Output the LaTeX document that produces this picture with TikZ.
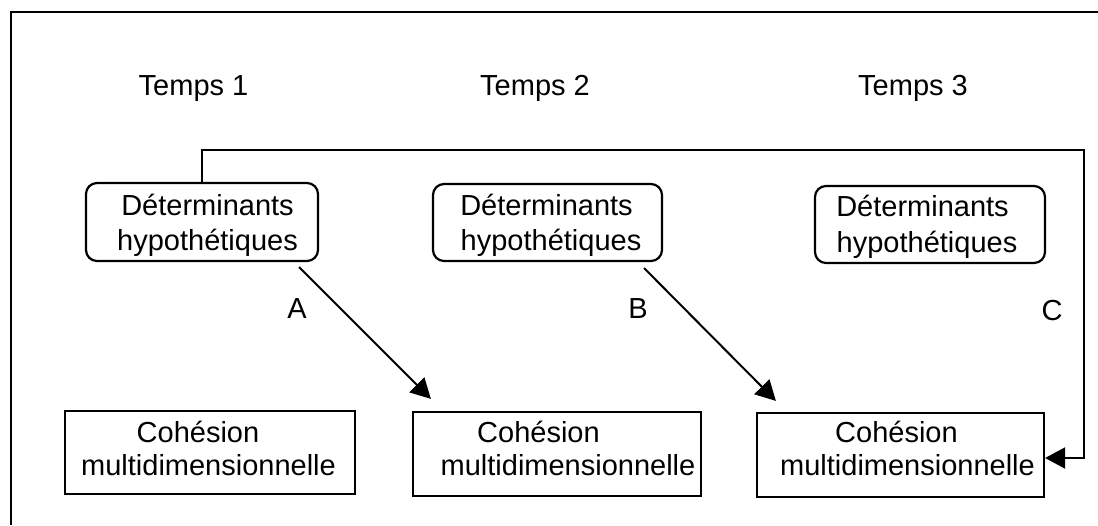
\documentclass[tikz,border=0pt]{standalone}
\usepackage{fontspec}
\setmainfont{Liberation Sans}
\usetikzlibrary{arrows.meta}
\begin{document}
\begin{tikzpicture}[x=1pt,y=-1pt,
  txt/.style={font=\fontsize{29}{35}\selectfont, inner sep=0pt, anchor=base},
  detbox/.style={draw, line width=2.2pt, rounded corners=11pt, inner sep=0pt},
  cohbox/.style={draw, line width=2.2pt, inner sep=0pt},
  conn/.style={line width=2pt},
  tip/.style={-{Triangle[length=20pt,width=21pt]}}]
\useasboundingbox (0,0) rectangle (1098,525);

% outer frame
\draw[line width=2.6pt] (1098,12) -- (11,12) -- (11,525);

% time headings
\node[txt] (t1) at (193.5,95) {Temps 1};
\node[txt] (t2) at (535,95) {Temps 2};
\node[txt] (t3) at (913,95) {Temps 3};

% determinant boxes
\node[detbox, minimum width=232pt, minimum height=78pt] (d1) at (202,222) {};
\node[detbox, minimum width=229pt, minimum height=77pt] (d2) at (547.5,222.5) {};
\node[detbox, minimum width=230pt, minimum height=77pt] (d3) at (930,224.5) {};
\node[txt] (d1a) at (207.5,215) {Déterminants};
\node[txt] (d1b) at (207.5,250) {hypothétiques};
\node[txt] (d2a) at (546.5,215) {Déterminants};
\node[txt] (d2b) at (551,250) {hypothétiques};
\node[txt] (d3a) at (922.5,216) {Déterminants};
\node[txt] (d3b) at (927,252) {hypothétiques};

% cohesion boxes
\node[cohbox, minimum width=290pt, minimum height=83pt] (c1) at (210,452.5) {};
\node[cohbox, minimum width=288pt, minimum height=84pt] (c2) at (557,454) {};
\node[cohbox, minimum width=287pt, minimum height=84pt] (c3) at (900.5,455) {};
\node[txt] (c1a) at (198,442) {Cohésion};
\node[txt] (c1b) at (208.5,475) {multidimensionnelle};
\node[txt] (c2a) at (538.5,442) {Cohésion};
\node[txt] (c2b) at (568,475) {multidimensionnelle};
\node[txt] (c3a) at (896.5,442) {Cohésion};
\node[txt] (c3b) at (907.5,475) {multidimensionnelle};

% path labels
\node[txt] (la) at (297,318) {A};
\node[txt] (lb) at (638,318) {B};
\node[txt] (lc) at (1052,320) {C};

% connectors
\coordinate (a1s) at ([shift={(-20,5)}]d1.south east);
\coordinate (a1e) at ([shift={(19,-12)}]c2.north west);
\coordinate (b1s) at ([shift={(-19,6)}]d2.south east);
\coordinate (b1e) at ([shift={(20,-11)}]c3.north west);
\coordinate (cr) at (1084,150);
\draw[conn, tip] (a1s) -- (a1e);
\draw[conn, tip] (b1s) -- (b1e);
\draw[conn, tip] (d1.north) |- (cr) |- ([yshift=-3pt]c3.east);
\end{tikzpicture}
\end{document}
